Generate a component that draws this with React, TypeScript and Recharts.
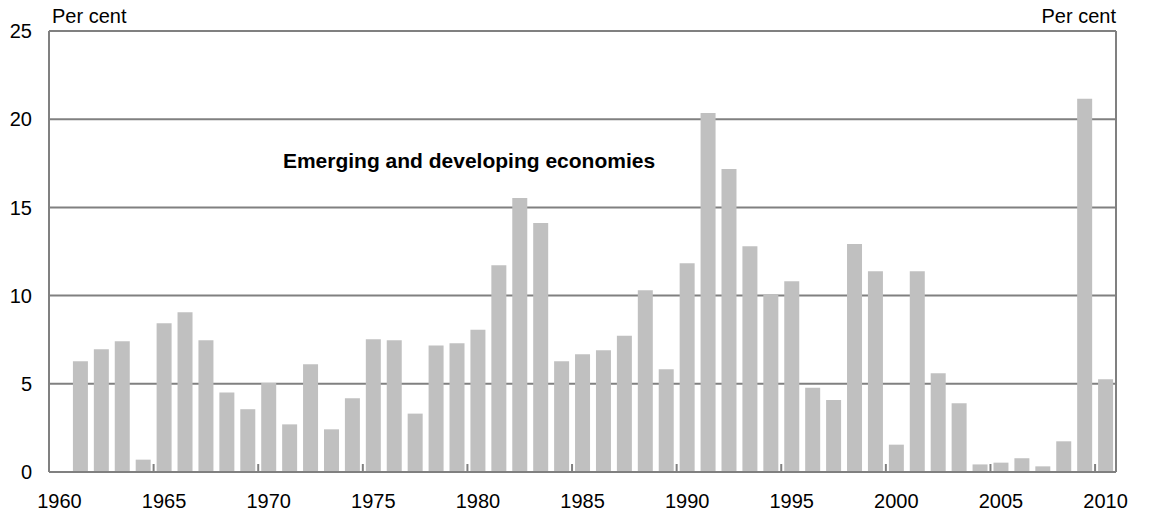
import { BarChart, Bar, XAxis, YAxis, CartesianGrid } from 'recharts';

const years = [
  1961, 1962, 1963, 1964, 1965, 1966, 1967, 1968, 1969, 1970,
  1971, 1972, 1973, 1974, 1975, 1976, 1977, 1978, 1979, 1980,
  1981, 1982, 1983, 1984, 1985, 1986, 1987, 1988, 1989, 1990,
  1991, 1992, 1993, 1994, 1995, 1996, 1997, 1998, 1999, 2000,
  2001, 2002, 2003, 2004, 2005, 2006, 2007, 2008, 2009, 2010,
];

const values = [
  6.28, 6.96, 7.41, 0.7, 8.43, 9.06, 7.47, 4.5, 3.56, 5.05,
  2.7, 6.11, 2.42, 4.18, 7.53, 7.47, 3.31, 7.17, 7.3, 8.07,
  11.72, 15.53, 14.11, 6.28, 6.68, 6.9, 7.73, 10.31, 5.82, 11.84,
  20.35, 17.17, 12.8, 10.06, 10.82, 4.77, 4.08, 12.92, 11.38, 1.55,
  11.38, 5.6, 3.9, 0.43, 0.53, 0.78, 0.32, 1.74, 21.16, 5.26,
];

const yearTicks = [1960, 1965, 1970, 1975, 1980, 1985, 1990, 1995, 2000, 2005, 2010];
const valueTicks = [0, 5, 10, 15, 20, 25];

const title = 'Emerging and developing economies';
const unitLabel = 'Per cent';

const FONT = '"Liberation Sans", Arial, sans-serif';
const GREY = '#808080';
const AXIS_Y = 472;

// each year's bar sits in the middle of its one-year band
const data = years.map((year, i) => ({ year, pos: year + 0.5, value: values[i] }));

function YearTick(props: any) {
  const { x, payload } = props;
  return (
    <g>
      {payload.value !== 1960 && (
        <line x1={x} x2={x} y1={AXIS_Y - 1} y2={AXIS_Y - 8} stroke={GREY} strokeWidth={2} />
      )}
      <text x={x + 10.5} y={AXIS_Y + 36} textAnchor="middle" fontSize={20} fill="#000" fontFamily={FONT}>
        {payload.value}
      </text>
    </g>
  );
}

export default function App() {
  return (
    <div style={{ position: 'absolute', left: 0, top: 0, background: '#fff' }}>
      <BarChart
        width={1165}
        height={515}
        data={data}
        margin={{ top: 31, right: 0, bottom: 0, left: 0 }}
        style={{ fontFamily: FONT }}
      >
        <CartesianGrid yAxisId="left" vertical={false} stroke={GREY} strokeWidth={2} />
        <XAxis
          dataKey="pos"
          type="number"
          domain={[1960, 2011]}
          ticks={yearTicks}
          allowDataOverflow
          height={43}
          axisLine={{ stroke: GREY, strokeWidth: 2 }}
          tickLine={false}
          tick={<YearTick />}
          interval={0}
        />
        <YAxis
          yAxisId="left"
          orientation="left"
          width={49}
          domain={[0, 25]}
          ticks={valueTicks}
          axisLine={{ stroke: GREY, strokeWidth: 2 }}
          tickLine={false}
          tickMargin={11}
          tick={{ fontSize: 20, fill: '#000' }}
        />
        <YAxis
          yAxisId="right"
          orientation="right"
          width={49}
          domain={[0, 25]}
          ticks={valueTicks}
          axisLine={{ stroke: GREY, strokeWidth: 2 }}
          tickLine={false}
          tickMargin={10}
          tick={{ fontSize: 20, fill: '#000' }}
        />
        <Bar yAxisId="left" dataKey="value" fill="#c0c0c0" barSize={15} isAnimationActive={false} />
        <text x={52} y={23} fontSize={20} fill="#000" fontFamily={FONT}>{unitLabel}</text>
        <text x={1116} y={23} fontSize={20} fill="#000" textAnchor="end" fontFamily={FONT}>{unitLabel}</text>
        <text x={469} y={168} fontSize={21} fontWeight="bold" fill="#000" textAnchor="middle" fontFamily={FONT}>
          {title}
        </text>
      </BarChart>
    </div>
  );
}
